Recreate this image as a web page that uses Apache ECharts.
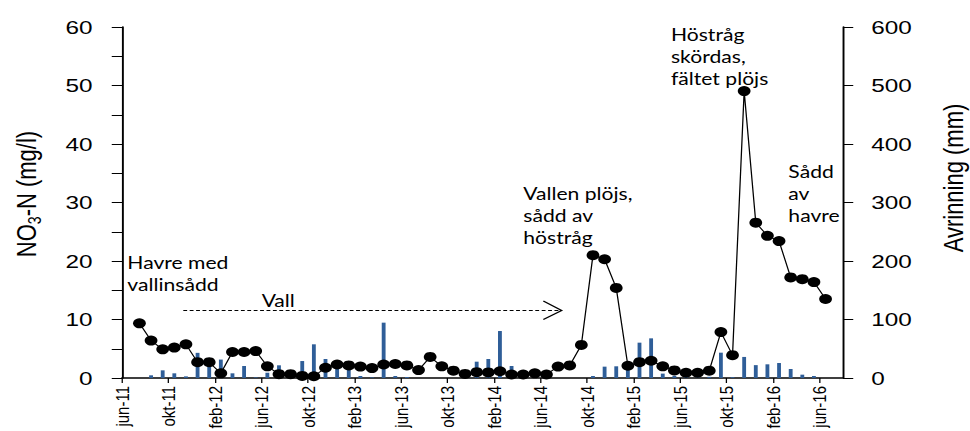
<!DOCTYPE html>
<html>
<head>
<meta charset="utf-8">
<script src="https://cdn.jsdelivr.net/npm/echarts@6/dist/echarts.min.js"></script>
<style>
  html, body { margin: 0; padding: 0; background: #fff; overflow: hidden; }
  /* the figure is laid out narrow and widened horizontally */
  #chart { width: 758px; height: 431px; transform: scaleX(1.28); transform-origin: 0 0; }
</style>
</head>
<body>
<div id="chart"></div>
<script>
// Month axis: 0 = start of June 2011, one unit per month
const tickLabels = ['jun-11', 'okt-11', 'feb-12', 'jun-12', 'okt-12', 'feb-13', 'jun-13', 'okt-13',
  'feb-14', 'jun-14', 'okt-14', 'feb-15', 'jun-15', 'okt-15', 'feb-16', 'jun-16'];
const tickStep = 4;          // months between labelled ticks
const axisEndMonth = 62;     // axis runs to the start of August 2016
const firstSampleMonth = 1;  // monthly samples from July 2011 to June 2016, plotted mid-month

// NO3-N concentration (mg/l)
const nitrate = [9.35, 6.4, 4.9, 5.2, 5.75, 2.7, 2.7, 0.8, 4.45, 4.45, 4.6, 2.0,
  0.65, 0.65, 0.35, 0.3, 1.75, 2.3, 2.15, 1.95, 1.7, 2.3, 2.4, 2.15,
  1.35, 3.6, 2.0, 1.25, 0.7, 1.0, 0.95, 1.15, 0.6, 0.6, 0.8, 0.6,
  1.95, 2.15, 5.65, 21.0, 20.3, 15.4, 2.1, 2.7, 2.95, 2.0, 1.3, 0.9,
  0.9, 1.25, 7.85, 3.9, 49.05, 26.55, 24.3, 23.4, 17.2, 16.9, 16.4, 13.5];

// Monthly runoff (mm)
const runoff = [0, 4.6, 13.1, 8, 2.8, 43, 28, 31.5, 8, 20.5, 1.1, 9,
  21.7, 3, 29, 57.6, 32.5, 17, 13.7, 3.4, 1.1, 94.6, 3.4, 1.7,
  0, 0, 0, 0, 0, 27.9, 32.5, 80.3, 20.5, 0, 0, 0,
  0, 0, 0, 3.4, 19.4, 20, 16, 60.4, 67.8, 7.5, 3.7, 2,
  1, 2, 43.3, 1.4, 36, 22, 23.4, 25.6, 15.4, 5.7, 3.4, 0];

const samplePos = nitrate.map((_, i) => firstSampleMonth + i + 0.5);
const tickValues = tickLabels.map((_, i) => i * tickStep);

const axisFont = 'Liberation Sans';
const noteFont = 'Lato';
const noteStyle = (text) => ({ text, fontFamily: noteFont, fontSize: 16.5, lineHeight: 22, fill: '#000', align: 'left', verticalAlign: 'top' });

const chart = echarts.init(document.getElementById('chart'), null, { renderer: 'svg' });
chart.setOption({
  animation: false,
  grid: { left: 95.3, right: 99.4, top: 27, bottom: 53, containLabel: false, outerBoundsMode: 'none' },
  xAxis: {
    type: 'value', min: 0, max: axisEndMonth,
    splitLine: { show: false },
    axisLine: { show: true, lineStyle: { color: '#000', width: 1.5 } },
    axisTick: { show: true, inside: false, length: 5, customValues: tickValues, lineStyle: { color: '#000', width: 1 } },
    axisLabel: {
      customValues: tickValues, rotate: 90, margin: 8,
      fontFamily: axisFont, fontSize: 15, color: '#000',
      formatter: (v) => tickLabels[Math.round(v / tickStep)] || ''
    }
  },
  yAxis: [
    {
      type: 'value', min: 0, max: 60, interval: 5, position: 'left',
      splitLine: { show: false },
      axisLine: { show: true, lineStyle: { color: '#000', width: 1.5 } },
      axisTick: { show: true, inside: false, length: 8, lineStyle: { color: '#000', width: 1 } },
      axisLabel: { margin: 23, fontFamily: axisFont, fontSize: 19, color: '#000',
        formatter: (v) => (v % 10 === 0 ? String(v) : '') }
    },
    {
      type: 'value', min: 0, max: 600, interval: 100, position: 'right',
      splitLine: { show: false },
      axisLine: { show: true, lineStyle: { color: '#000', width: 1.5 } },
      axisTick: { show: true, inside: false, length: 8, lineStyle: { color: '#000', width: 1 } },
      axisLabel: { margin: 22, fontFamily: axisFont, fontSize: 19, color: '#000' }
    }
  ],
  series: [
    {
      name: 'Avrinning', type: 'bar', yAxisIndex: 1, barWidth: 3, z: 1,
      itemStyle: { color: '#2f5e98' },
      data: runoff.map((v, i) => [samplePos[i], v])
    },
    {
      name: 'NO3-N', type: 'line', yAxisIndex: 0, z: 3,
      symbol: 'circle', symbolSize: 10, showAllSymbol: true,
      lineStyle: { color: '#000', width: 1 },
      itemStyle: { color: '#000' },
      data: nitrate.map((v, i) => [samplePos[i], v])
    }
  ],
  graphic: [
    { type: 'text', x: 20.5, y: 194, rotation: Math.PI / 2, silent: true,
      style: { text: '{n|NO}{s|3}{n|-N (mg/l)}', align: 'center', verticalAlign: 'middle',
        rich: { n: { fontFamily: axisFont, fontSize: 22, lineHeight: 26, fill: '#000' },
                s: { fontFamily: axisFont, fontSize: 14, lineHeight: 14, verticalAlign: 'bottom', fill: '#000' } } } },
    { type: 'text', x: 744.5, y: 178, rotation: Math.PI / 2, silent: true,
      style: { text: 'Avrinning (mm)', align: 'center', verticalAlign: 'middle',
        fontFamily: axisFont, fontSize: 22, fill: '#000' } },
    { type: 'text', x: 99.5, y: 251.5, silent: true, style: noteStyle('Havre med\nvallinsådd') },
    { type: 'text', x: 204.4, y: 289.5, silent: true, style: noteStyle('Vall') },
    { type: 'line', silent: true, shape: { x1: 143.2, y1: 310.5, x2: 438.8, y2: 310.5 },
      style: { stroke: '#000', lineWidth: 1, lineDash: [3, 2] } },
    { type: 'polyline', silent: true, shape: { points: [[424.5, 301], [438.8, 310.5], [424.5, 319.5]] },
      style: { stroke: '#000', lineWidth: 1.2, fill: null } },
    { type: 'text', x: 408.8, y: 182.8, silent: true, style: noteStyle('Vallen plöjs,\nsådd av\nhöstråg') },
    { type: 'text', x: 524.2, y: 23.5, silent: true, style: noteStyle('Höstråg\nskördas,\nfältet plöjs') },
    { type: 'text', x: 615.9, y: 160.8, silent: true, style: noteStyle('Sådd\nav\nhavre') }
  ]
});
</script>
</body>
</html>
